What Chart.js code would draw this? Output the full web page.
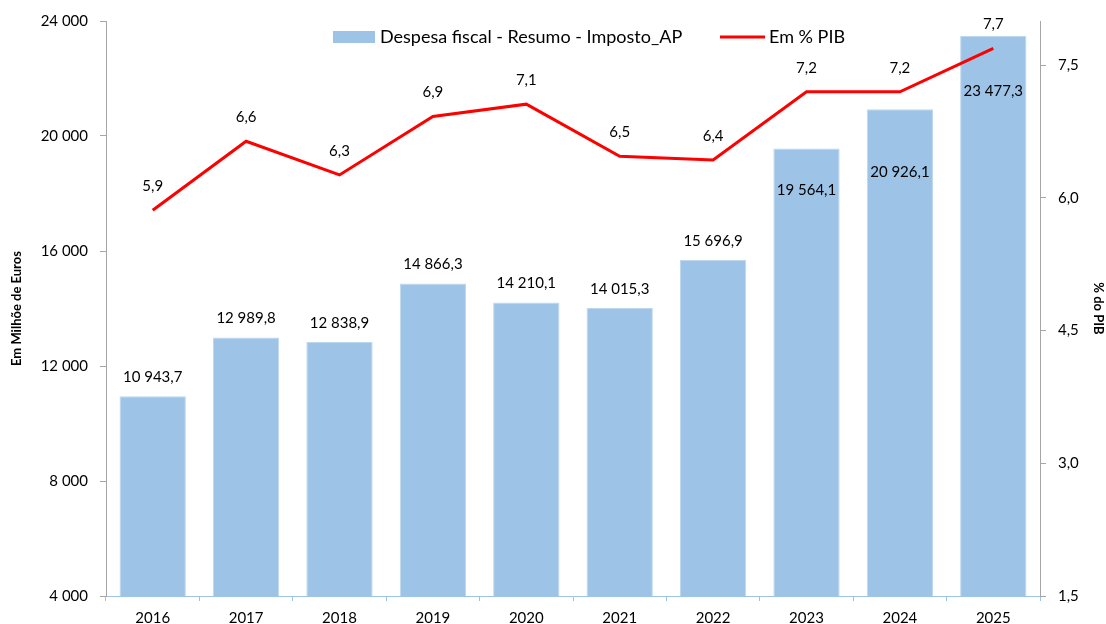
<!DOCTYPE html>
<html>
<head>
<meta charset="utf-8">
<script src="https://cdn.jsdelivr.net/npm/chart.js@4/dist/chart.umd.min.js"></script>
<style>
  html, body { margin: 0; padding: 0; background: #fff; }
  #myChart { display: block; }
</style>
</head>
<body>
<canvas id="myChart" width="1106" height="624"></canvas>
<script>
var years = ['2016', '2017', '2018', '2019', '2020', '2021', '2022', '2023', '2024', '2025'];
var despesa = [10943.7, 12989.8, 12838.9, 14866.3, 14210.1, 14015.3, 15696.9, 19564.1, 20926.1, 23477.3];
var pctPib = [5.86, 6.64, 6.26, 6.92, 7.06, 6.47, 6.43, 7.20, 7.20, 7.69];
var barName = 'Despesa fiscal - Resumo - Imposto_AP';
var lineName = 'Em % PIB';

function fmtThousands(v, dec) {
  var s = v.toFixed(dec).split('.');
  var out = s[0].replace(/\B(?=(\d{3})+(?!\d))/g, ' ');
  if (s.length > 1) out += ',' + s[1];
  return out;
}

// labels inside the top of the last three bars (where the line runs over them)
var insideOffset = { 7: 42, 8: 63, 9: 55 };

var valueLabels = {
  id: 'valueLabels',
  afterDatasetsDraw: function(chart) {
    var ctx = chart.ctx;
    ctx.save();
    ctx.font = '15px Lato';
    ctx.fillStyle = '#000';
    ctx.textAlign = 'center';
    ctx.textBaseline = 'middle';
    chart.getDatasetMeta(0).data.forEach(function(bar, i) {
      var y = insideOffset[i] !== undefined ? bar.y + insideOffset[i] : bar.y - 19;
      ctx.fillText(fmtThousands(despesa[i], 1), bar.x, y);
    });
    chart.getDatasetMeta(1).data.forEach(function(pt, i) {
      ctx.fillText(pctPib[i].toFixed(1).replace('.', ','), pt.x, pt.y - 24);
    });
    ctx.restore();
  }
};

var customLegend = {
  id: 'customLegend',
  afterDraw: function(chart) {
    var ctx = chart.ctx;
    var y = 37;
    ctx.save();
    ctx.font = '18px Lato';
    ctx.textBaseline = 'middle';
    ctx.textAlign = 'left';
    ctx.fillStyle = '#9DC3E6';
    ctx.fillRect(333, y - 6, 42, 12);
    ctx.fillStyle = '#000';
    ctx.fillText(barName, 380, y);
    ctx.strokeStyle = '#FF0000';
    ctx.lineWidth = 3;
    ctx.beginPath();
    ctx.moveTo(720, y);
    ctx.lineTo(765, y);
    ctx.stroke();
    ctx.fillText(lineName, 769, y);
    ctx.restore();
  }
};

function renderChart() {
  var ctx = document.getElementById('myChart').getContext('2d');
  Chart.defaults.font.family = 'Lato';
  Chart.defaults.font.size = 15;
  Chart.defaults.color = '#000';

  new Chart(ctx, {
    type: 'bar',
    data: {
      labels: years,
      datasets: [
        {
          label: barName,
          data: despesa,
          backgroundColor: '#9DC3E6',
          borderColor: '#BDD7EE',
          borderWidth: 1,
          barPercentage: 0.71,
          categoryPercentage: 1.0,
          yAxisID: 'y',
          order: 2
        },
        {
          type: 'line',
          label: lineName,
          data: pctPib,
          borderColor: '#FF0000',
          borderWidth: 3,
          pointRadius: 0,
          fill: false,
          tension: 0,
          yAxisID: 'y1',
          order: 1
        }
      ]
    },
    options: {
      responsive: false,
      animation: false,
      layout: { padding: { top: 20, left: 0, right: 0, bottom: 0 } },
      plugins: {
        legend: { display: false },
        tooltip: { enabled: false }
      },
      scales: {
        x: {
          grid: { offset: true, drawOnChartArea: false, tickLength: 5, color: '#9DC3E6' },
          border: { color: '#9DC3E6' },
          ticks: { padding: 8, font: { size: 15 } },
          afterFit: function(scale) { scale.height = 28; }
        },
        y: {
          position: 'left',
          min: 4000,
          max: 24000,
          ticks: {
            stepSize: 4000,
            padding: 12,
            callback: function(v) { return fmtThousands(v, 0); }
          },
          grid: { drawOnChartArea: false, tickLength: 6, color: '#A6A6A6' },
          border: { color: '#A6A6A6' },
          title: { display: true, text: 'Em Milhõe de Euros', font: { size: 13, weight: 'bold' }, padding: { top: 9, bottom: 0 } },
          afterFit: function(scale) { scale.width = 106; }
        },
        y1: {
          position: 'right',
          min: 1.5,
          max: 8.0,
          ticks: {
            stepSize: 1.5,
            includeBounds: false,
            padding: 12,
            callback: function(v) { return v.toFixed(1).replace('.', ','); }
          },
          grid: { drawOnChartArea: false, tickLength: 6, color: '#A6A6A6' },
          border: { color: '#A6A6A6' },
          title: { display: true, text: '% do PIB', font: { size: 13, weight: 'bold' }, padding: 0 },
          afterFit: function(scale) { scale.width = 66; }
        }
      }
    },
    plugins: [valueLabels, customLegend]
  });
}
document.addEventListener('DOMContentLoaded', renderChart);
</script>
</body>
</html>
